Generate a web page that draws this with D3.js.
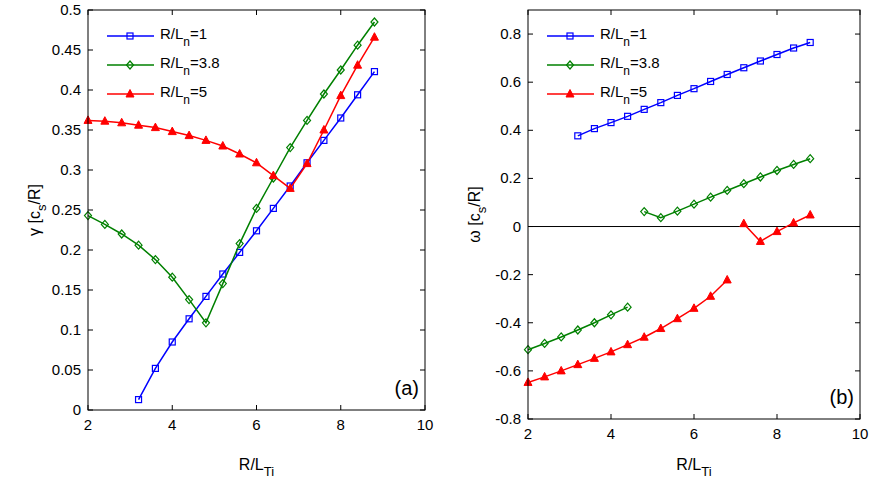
<!DOCTYPE html>
<html><head><meta charset="utf-8">
<script src="https://cdn.jsdelivr.net/npm/d3@7"></script>
<style>body{margin:0;background:#fff}text{font-family:"Liberation Sans",Arial,sans-serif}</style>
</head><body><svg id="c" width="874" height="481"></svg>
<script>
const xs = [2,2.4,2.8,3.2,3.6,4,4.4,4.8,5.2,5.6,6,6.4,6.8,7.2,7.6,8,8.4,8.8];
const seriesNames = ["1","3.8","5"];
const colors = ["#0000ff","#008000","#ff0000"];
// growth rate gamma (panel a), null = no point
const gamma1 = [null,null,null,0.013,0.052,0.085,0.114,0.142,0.170,0.197,0.224,0.252,0.280,0.309,0.337,0.365,0.394,0.423];
const gamma38 = [0.243,0.232,0.220,0.206,0.188,0.166,0.138,0.109,0.158,0.208,0.252,0.290,0.328,0.362,0.395,0.425,0.456,0.485];
const gamma5 = [0.362,0.361,0.359,0.356,0.353,0.348,0.343,0.337,0.330,0.320,0.309,0.293,0.277,0.308,0.350,0.393,0.431,0.466];
// frequency omega (panel b)
const omega1 = [null,null,null,0.377,0.407,0.432,0.458,0.487,0.515,0.545,0.573,0.603,0.632,0.660,0.688,0.715,0.742,0.765];
const omega38 = [-0.512,-0.486,-0.459,-0.430,-0.400,-0.367,-0.335,null,null,null,null,null,null,null,null,null,null,null];
const omega38b = [null,null,null,null,null,null,null,0.062,0.037,0.064,0.093,0.122,0.150,0.178,0.206,0.233,0.258,0.282];
const omega5 = [-0.648,-0.625,-0.600,-0.574,-0.548,-0.521,-0.491,-0.460,-0.424,-0.383,-0.340,-0.290,-0.222,null,null,null,null,null];
const omega5b = [null,null,null,null,null,null,null,null,null,null,null,null,null,0.012,-0.062,-0.021,0.015,0.048];
const xTicks = [2,4,6,8,10];
const gammaTicks = [0,0.05,0.1,0.15,0.2,0.25,0.3,0.35,0.4,0.45,0.5];
const omegaTicks = [-0.8,-0.6,-0.4,-0.2,0,0.2,0.4,0.6,0.8];

const svg = d3.select("#c");

function marker(g, kind, x, y, col) {
    if (kind === 0) {
        g.append("rect").attr("x", x - 3).attr("y", y - 3).attr("width", 6).attr("height", 6)
            .attr("fill", "none").attr("stroke", col).attr("stroke-width", 1.2);
    } else if (kind === 1) {
        g.append("path").attr("d", `M${x},${y-4}L${x+3.5},${y}L${x},${y+4}L${x-3.5},${y}Z`)
            .attr("fill", "none").attr("stroke", col).attr("stroke-width", 1.2);
    } else {
        g.append("path").attr("d", `M${x},${y-4.5}L${x+4},${y+3}L${x-4},${y+3}Z`)
            .attr("fill", col).attr("stroke", col);
    }
}

function panel(opt) {
    const x = d3.scaleLinear().domain([2, 10]).range([opt.x0, opt.x1]);
    const y = d3.scaleLinear().domain(opt.yDom).range([opt.y1, opt.y0]);
    const g = svg.append("g");
    if (opt.zero) {
        g.append("line").attr("x1", opt.x0).attr("x2", opt.x1).attr("y1", y(0)).attr("y2", y(0))
            .attr("stroke", "#000").attr("stroke-width", 1);
    }
    const line = d3.line().defined(d => d[1] !== null).x(d => x(d[0])).y(d => y(d[1]));
    opt.series.forEach(s => {
        const pts = xs.map((v, i) => [v, s.vals[i]]);
        g.append("path").attr("d", line(pts)).attr("fill", "none")
            .attr("stroke", colors[s.k]).attr("stroke-width", 1.5);
        pts.filter(p => p[1] !== null).forEach(p => marker(g, s.k, x(p[0]), y(p[1]), colors[s.k]));
    });
    // box and ticks
    g.append("rect").attr("x", opt.x0).attr("y", opt.y0).attr("width", opt.x1 - opt.x0)
        .attr("height", opt.y1 - opt.y0).attr("fill", "none").attr("stroke", "#000");
    xTicks.forEach(t => {
        g.append("path").attr("d", `M${x(t)},${opt.y1}v-5M${x(t)},${opt.y0}v5`).attr("stroke", "#000");
        g.append("text").attr("x", x(t)).attr("y", opt.y1 + 20).attr("text-anchor", "middle")
            .attr("font-size", 15).text(t);
    });
    opt.ticks.forEach(t => {
        g.append("path").attr("d", `M${opt.x0},${y(t)}h5M${opt.x1},${y(t)}h-5`).attr("stroke", "#000");
        g.append("text").attr("x", opt.x0 - 7).attr("y", y(t) + 5).attr("text-anchor", "end")
            .attr("font-size", 15).text(opt.fmt(t));
    });
    // legend
    seriesNames.forEach((n, i) => {
        const ly = opt.y0 + 26 + i * 29;
        g.append("line").attr("x1", opt.x0 + 19).attr("x2", opt.x0 + 66).attr("y1", ly).attr("y2", ly)
            .attr("stroke", colors[i]).attr("stroke-width", 1.5);
        marker(g, i, opt.x0 + 42, ly, colors[i]);
        const t = g.append("text").attr("x", opt.x0 + 72).attr("y", ly + 3).attr("font-size", 15);
        t.append("tspan").text("R/L");
        t.append("tspan").attr("dy", 7).attr("font-size", 12).text("n");
        t.append("tspan").attr("dy", -7).text("=" + n);
    });
    g.append("text").attr("x", opt.x1 - 6).attr("y", opt.y1 - 15).attr("text-anchor", "end")
        .attr("font-size", 20).text(opt.tag);
    // axis labels
    const xl = g.append("text").attr("x", (opt.x0 + opt.x1) / 2).attr("y", 470)
        .attr("text-anchor", "middle").attr("font-size", 16);
    xl.append("tspan").text("R/L");
    xl.append("tspan").attr("dy", 6).attr("font-size", 13).text("Ti");
    const yl = g.append("text").attr("transform", `translate(${opt.x0 - 48},${(opt.y0 + opt.y1) / 2}) rotate(-90)`)
        .attr("text-anchor", "middle").attr("font-size", 16);
    yl.append("tspan").text(opt.ysym + " [c");
    yl.append("tspan").attr("dy", 6).attr("font-size", 13).text("s");
    yl.append("tspan").attr("dy", -6).text("/R]");
}

panel({x0: 88, x1: 425, y0: 10, y1: 410, yDom: [0, 0.5], ticks: gammaTicks,
    fmt: d => d === 0 ? "0" : String(+d.toFixed(2)), tag: "(a)", ysym: "γ",
    series: [{k: 0, vals: gamma1}, {k: 1, vals: gamma38}, {k: 2, vals: gamma5}]});
panel({x0: 528, x1: 860, y0: 10, y1: 419, yDom: [-0.8, 0.9], ticks: omegaTicks, zero: true,
    fmt: d => d === 0 ? "0" : d.toFixed(1), tag: "(b)", ysym: "ω",
    series: [{k: 0, vals: omega1}, {k: 1, vals: omega38}, {k: 1, vals: omega38b},
             {k: 2, vals: omega5}, {k: 2, vals: omega5b}]});
</script></body></html>
